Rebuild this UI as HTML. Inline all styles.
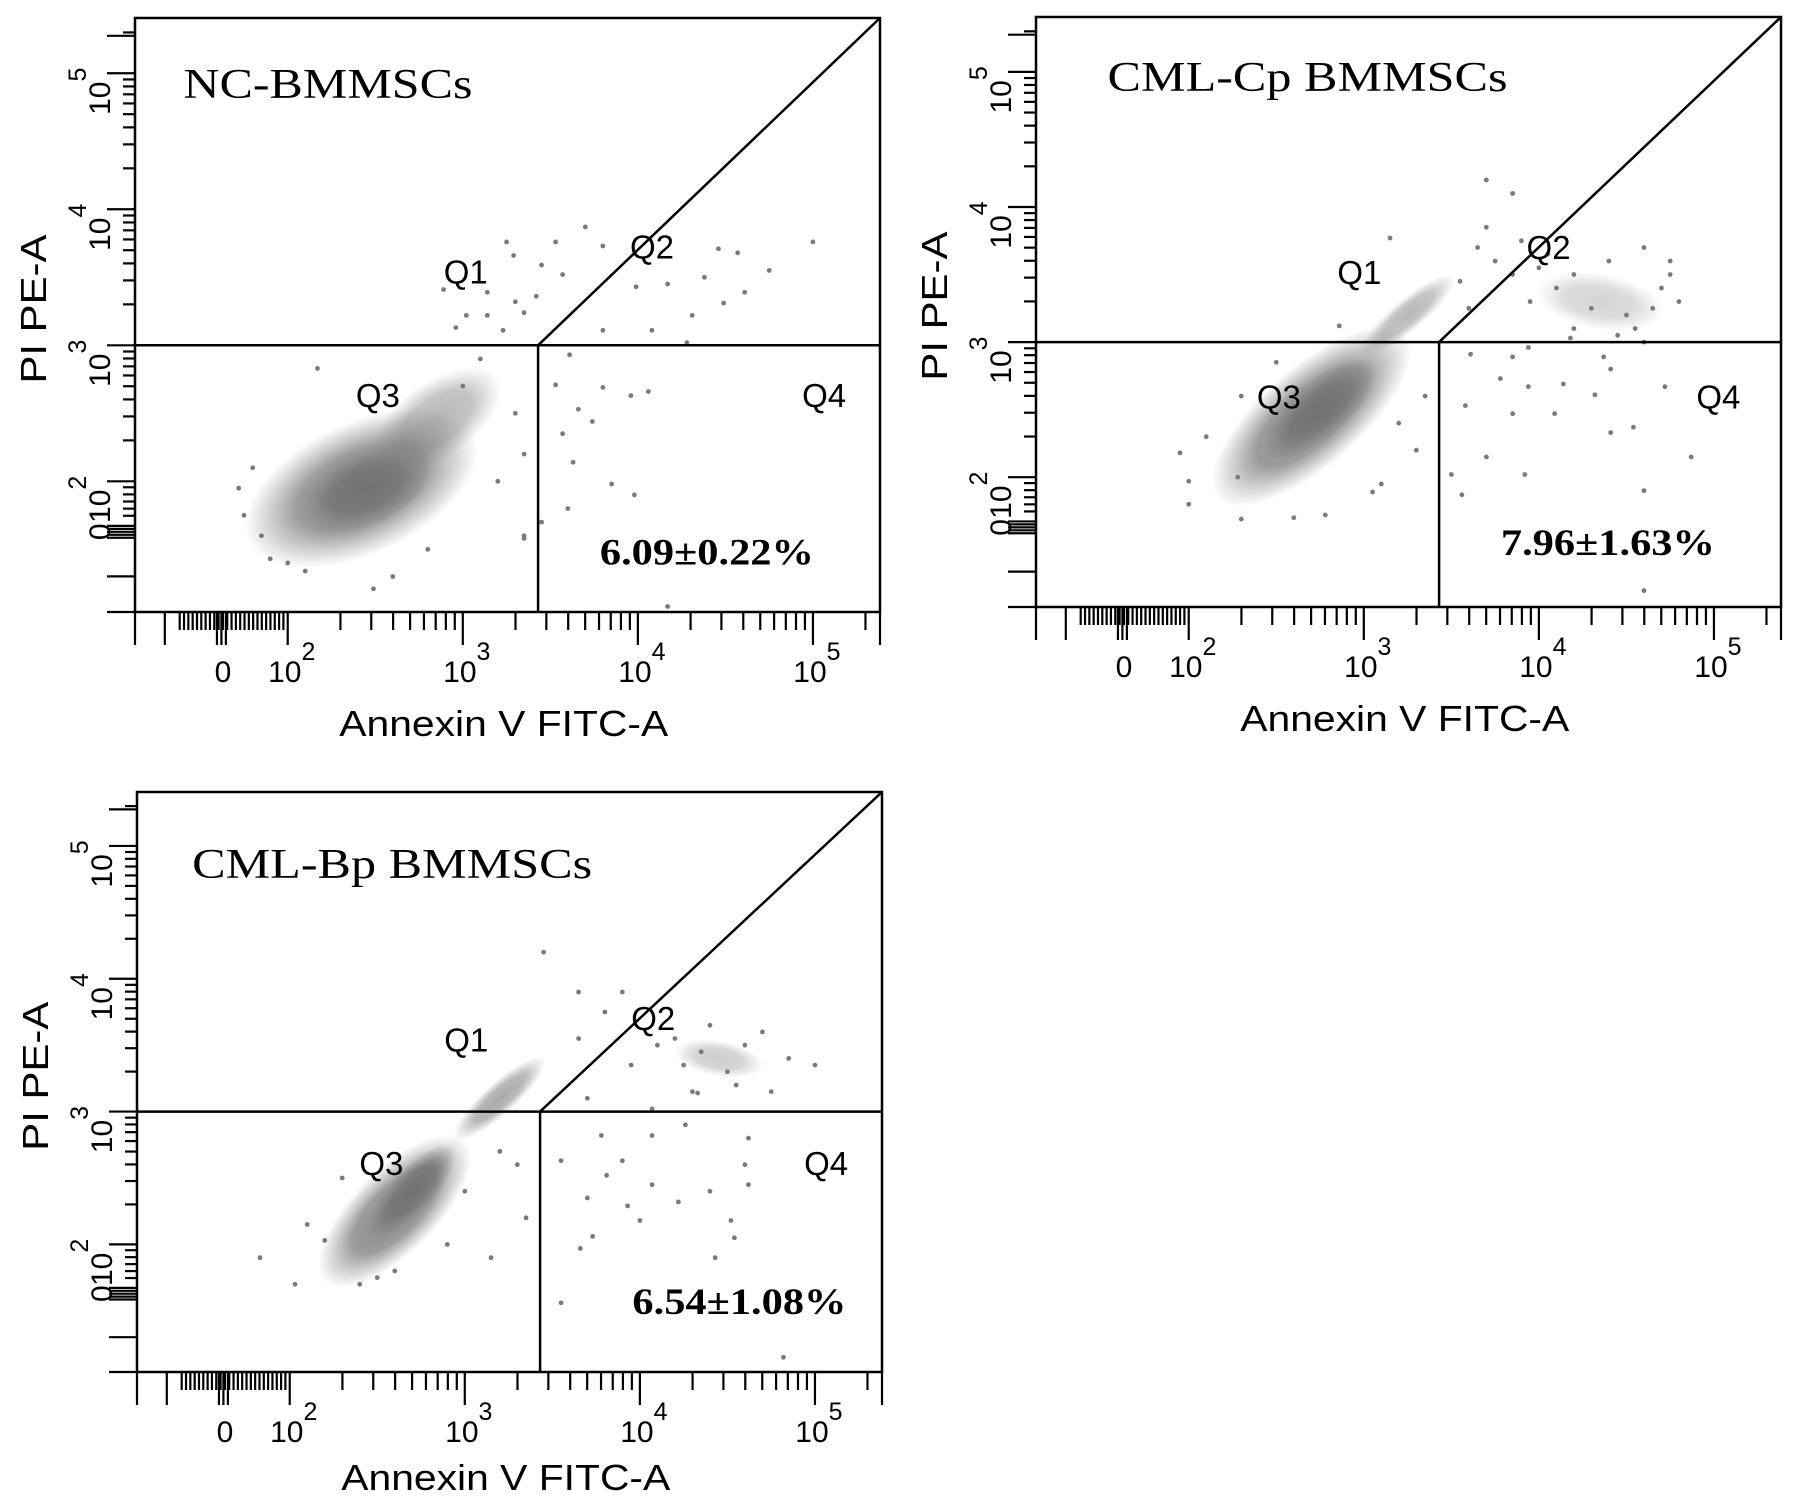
<!DOCTYPE html>
<html><head><meta charset="utf-8"><style>html,body{margin:0;padding:0;background:#fff}svg{display:block}</style></head>
<body>
<svg id="fig" width="1795" height="1506" viewBox="0 0 1795 1506" xmlns="http://www.w3.org/2000/svg">
<defs>
<radialGradient id="cloud"><stop offset="0" stop-color="#707070" stop-opacity="1"/><stop offset="0.55" stop-color="#767676" stop-opacity="0.85"/><stop offset="1" stop-color="#808080" stop-opacity="0"/></radialGradient>
</defs>
</svg>
<script>
// ---- data (log10 units) ----
const panelTitles = ["NC-BMMSCs", "CML-Cp BMMSCs", "CML-Bp BMMSCs"];
const panelPercents = ["6.09\u00b10.22%", "7.96\u00b11.63%", "6.54\u00b11.08%"];
const xTickDecades = [2, 3, 4, 5];
const yTickDecades = [2, 3, 4, 5];
const gateX = 3.43, gateY = 3.0;
// blobs: [cx(log), cy(log), semiMajorPx, semiMinorPx, angleDeg, opacity]
const blobs1 = [[2.42,1.95,125,66,-25,0.85],[2.45,1.95,70,38,-25,1],[2.85,2.45,75,38,-35,0.5]];
const blobs2 = [[2.7,2.45,125,50,-41,0.85],[2.75,2.5,70,28,-41,1],[3.25,3.2,60,16,-40,0.5],[4.35,3.3,65,28,10,0.3]];
const blobs3 = [[2.6,2.25,100,42,-45,0.85],[2.7,2.4,60,22,-48,1],[3.2,3.1,60,16,-42,0.6],[4.45,3.4,45,18,10,0.35]];
const xs1 = [3.25,3.70,3.53,3.45,3.57,3.80,3.99,4.17,4.38,4.46,4.57,4.75,5.0,4.49,4.61,4.31,3.80,4.08,4.28,3.29,3.30,3.42,3.14,3.14,3.02,2.96,2.89,3.23,3.35,3.61,3.53,3.80,3.96,4.06,3.66,3.74,3.57,3.63,3.85,3.98,3.60,3.45,4.17,3.35,2.17,2.49,1.90,2.10,1.72,1.75,1.8,1.85,3.3,3.2,3.35,3.1,3.0,2.0,2.6,2.8,3.35];
const ys1 = [3.76,3.87,3.76,3.59,3.52,3.73,3.43,3.45,3.50,3.71,3.68,3.55,3.76,3.31,3.39,3.22,3.11,3.11,3.02,3.66,3.32,3.36,3.39,3.22,3.22,3.13,3.41,3.11,3.24,2.93,2.71,2.69,2.63,2.66,2.53,2.44,2.35,2.14,1.98,1.90,1.80,1.70,1.08,1.58,2.83,1.21,1.43,1.34,1.95,1.75,2.1,1.6,2.5,2.0,1.6,2.9,2.7,1.4,1.3,1.5,2.2];
const xs2 = [3.65,3.75,3.9,3.85,4.05,4.2,4.4,4.6,4.75,4.7,4.5,4.55,4.3,4.1,3.95,4.65,4.0,3.7,3.85,3.7,4.6,4.45,4.2,3.6,3.55,4.75,4.8,3.61,3.85,3.78,3.94,4.14,4.32,4.37,4.41,4.72,3.85,4.09,4.41,4.54,3.58,3.56,3.7,3.92,4.6,4.87,4.6,3.5,4.18,3.94,3.15,2.86,1.95,2.0,2.3,2.78,3.05,2.28,3.85,2.1,2.3,2.5,3.3,3.35,3.1,2.6,3.2,2.0];
const ys2 = [3.7,3.6,3.75,3.5,3.65,3.5,3.6,3.7,3.6,3.4,3.2,3.1,3.25,3.4,3.3,3.25,3.55,3.85,4.1,4.2,3.0,3.05,3.1,3.25,3.45,3.5,3.3,2.91,2.89,2.73,2.67,2.69,2.61,2.89,2.8,2.67,2.47,2.47,2.33,2.37,2.53,1.87,2.15,2.02,1.9,2.15,1.16,2.02,3.03,2.96,3.77,3.12,2.18,1.97,1.69,1.72,1.89,2.0,4.1,2.3,2.6,2.85,2.2,2.6,1.95,1.7,2.4,1.8];
const xs3 = [3.8,3.95,4.1,4.25,4.35,4.5,4.6,4.7,4.85,5.0,4.4,4.55,4.3,3.7,3.65,3.9,3.45,4.75,4.2,3.78,4.07,4.26,4.62,3.55,3.9,3.81,4.07,4.22,4.6,3.7,4.4,3.93,4.0,4.52,4.54,3.73,3.66,4.43,3.55,4.82,4.62,4.33,4.07,1.83,2.03,2.4,2.2,3.65,3.15,2.6,2.3,2.9,3.3,3.35,2.1,2.5,3.0,3.2];
const ys3 = [3.75,3.35,3.5,3.35,3.45,3.3,3.5,3.6,3.4,3.35,3.65,3.2,3.15,3.1,3.55,3.9,4.2,3.15,3.55,2.82,2.82,2.9,2.8,2.63,2.63,2.52,2.45,2.32,2.6,2.35,2.4,2.29,2.18,2.18,2.05,2.06,1.97,1.9,1.56,1.15,2.45,3.14,3.02,1.9,1.7,1.7,2.03,3.9,1.9,1.8,2.5,2.0,2.6,2.2,2.15,1.75,2.4,2.7];
const panelBlobs = [blobs1, blobs2, blobs3];
const panelXs = [xs1, xs2, xs3];
const panelYs = [ys1, ys2, ys3];

// ---- layout ----
const NS = "http://www.w3.org/2000/svg";
const svg = document.getElementById('fig');
const W = 745;
const heights = [594, 590, 580];
const titleOffsets = [124, 124, 118];
const origins = [[135,18],[1036,17],[137,792]];
const labelPos = [
  {q1:[.444,.427],q2:[.694,.385],q3:[.326,.635],q4:[.925,.635],pct:[.624,.92],pw:214,title:[.065,.135],tw:289},
  {q1:[.434,.432],q2:[.688,.39],q3:[.326,.643],q4:[.916,.643],pct:[.624,.912],pw:214,title:[.096,.125],tw:400},
  {q1:[.442,.427],q2:[.693,.39],q3:[.328,.64],q4:[.925,.64],pct:[.665,.9],pw:214,title:[.074,.148],tw:400}
];
function el(tag, attrs, parent){ const e=document.createElementNS(NS,tag); for(const k in attrs) e.setAttribute(k,attrs[k]); parent.appendChild(e); return e; }

panelTitles.forEach((title, p) => {
  const [ox, oy] = origins[p];
  const H = heights[p];
  const fx = v => (0.205 + (v-2)*0.235) * W;
  const fy = v => (0.78 - (v-2)*0.229) * H;
  const L = labelPos[p];
  const g = el('g',{transform:`translate(${ox},${oy})`}, svg);
  
  
  const cl = el('g',{}, g);
  
  
  panelBlobs[p].forEach(b => {
    const e = el('ellipse',{cx:fx(b[0]),cy:fy(b[1]),rx:b[2],ry:b[3],fill:'url(#cloud)',opacity:b[5],transform:`rotate(${b[4]} ${fx(b[0])} ${fy(b[1])})`}, cl);
    
    
  });
  const pg = el('g',{fill:'#7a7a7a'}, g);
  
  
  panelXs[p].forEach((xv,i) => {
    const c = el('circle',{cx:fx(xv),cy:fy(panelYs[p][i]),r:2.4}, pg);
    
    
  });
  const box = el('rect',{x:0,y:0,width:W,height:H,fill:'none',stroke:'#000','stroke-width':2.5}, g);
  
  
  const gx = fx(gateX), gy = fy(gateY);
  const hl = el('line',{x1:0,y1:gy,x2:W,y2:gy,stroke:'#000','stroke-width':2.5}, g);
  
  
  const vl = el('line',{x1:gx,y1:gy,x2:gx,y2:H,stroke:'#000','stroke-width':2.5}, g);
  
  
  const dl = el('line',{x1:gx,y1:gy,x2:W,y2:0,stroke:'#000','stroke-width':2.5}, g);
  
  
  const tk = el('g',{stroke:'#000','stroke-width':2.2}, g);
  
  
  const xt = (x,len) => el('line',{x1:x,y1:H,x2:x,y2:H+len}, tk);
  const yt = (y,len) => el('line',{x1:0,y1:y,x2:-len,y2:y}, tk);
  xt(0,33); xt(0.04*W,33);
  for(let f=0.06; f<0.2; f+=0.0058) xt(f*W,18);
  [0.11,0.116,0.122].forEach(f=>xt(f*W,33));
  xTickDecades.forEach(d => { xt(fx(d),33); if(d<5) for(let k=2;k<10;k++) xt(fx(d+Math.log10(k)),18); });
  xt(fx(5.3),18); xt(W,33);
  yt(H,28); yt(0.94*H,28);
  for(let f=0.855; f<0.878; f+=0.005) yt(f*H,28);
  for(let f=0.79; f<0.85; f+=0.012) yt(f*H,12);
  yTickDecades.forEach(d => { yt(fy(d),28); if(d<5) for(let k=2;k<10;k++) yt(fy(d+Math.log10(k)),12); });
  yt(fy(5.3),12); yt(0.03*H,28);
  const lab = el('g',{'font-family':'"Liberation Sans",Arial,sans-serif','font-size':30,fill:'#000'}, g);
  
  
  xTickDecades.forEach(d => {
    const t = el('text',{x:fx(d)+4,y:H+70,'text-anchor':'middle'}, lab);
    t.innerHTML = `10<tspan dy="-22" font-size="25">${d}</tspan>`;
    
    
  });
  const x0 = el('text',{x:0.118*W,y:H+70,'text-anchor':'middle'}, lab); x0.textContent='0';
  
  
  yTickDecades.forEach(d => {
    const t = el('text',{transform:`translate(-25,${fy(d)+18}) rotate(-90)`,'text-anchor':'middle'}, lab);
    t.innerHTML = `10<tspan dy="-24" font-size="25">${d}</tspan>`;
    
    
  });
  const y0 = el('text',{transform:`translate(-25,${0.865*H}) rotate(-90)`,'text-anchor':'middle'}, lab); y0.textContent='0';
  
  
  const xa = el('text',{x:0.495*W,y:H+titleOffsets[p],'text-anchor':'middle','font-family':'"Liberation Sans",Arial,sans-serif','font-size':36,textLength:329,lengthAdjust:'spacingAndGlyphs'}, g);
  xa.textContent = 'Annexin V FITC-A';
  
  
  const ya = el('text',{transform:`translate(-89,${0.49*H}) rotate(-90)`,'text-anchor':'middle','font-family':'"Liberation Sans",Arial,sans-serif','font-size':36,textLength:149,lengthAdjust:'spacingAndGlyphs'}, g);
  ya.textContent = 'PI PE-A';
  
  
  ['q1','q2','q3','q4'].forEach((q,i) => {
    const t = el('text',{x:L[q][0]*W,y:L[q][1]*H+12,'text-anchor':'middle','font-family':'"Liberation Sans",Arial,sans-serif','font-size':33}, g);
    t.textContent = 'Q' + (i+1);
    
    
  });
  const tt = el('text',{x:L.title[0]*W,y:L.title[1]*H,'font-family':'"Liberation Serif","Times New Roman",serif','font-size':42,textLength:L.tw,lengthAdjust:'spacingAndGlyphs'}, g);
  tt.textContent = title;
  
  
  const pc = el('text',{x:L.pct[0]*W,y:L.pct[1]*H,'font-family':'"Liberation Serif","Times New Roman",serif','font-size':37,'font-weight':'bold',textLength:L.pw,lengthAdjust:'spacingAndGlyphs'}, g);
  pc.textContent = panelPercents[p];
  
  
});
</script>
</body></html>
